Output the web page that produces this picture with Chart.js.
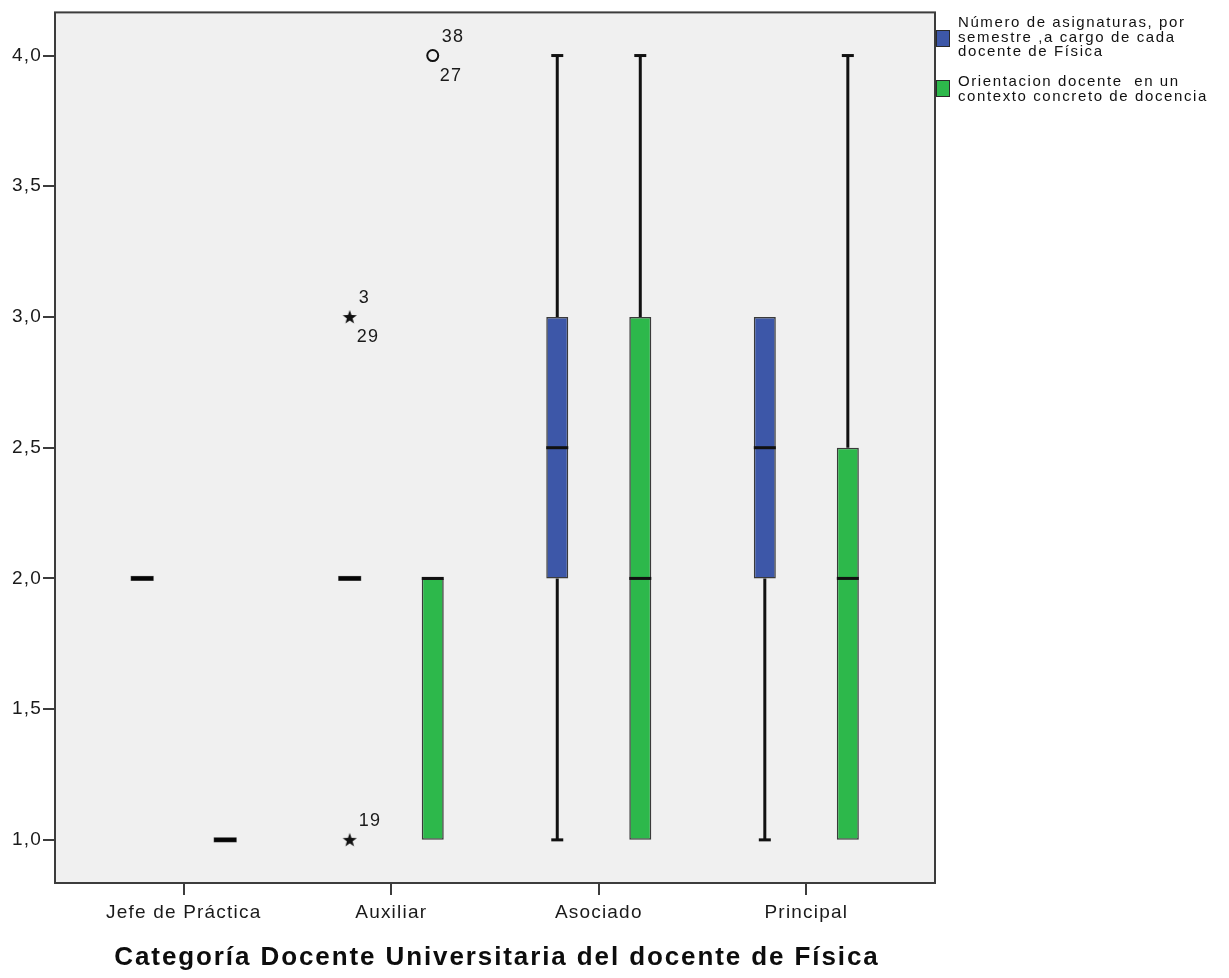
<!DOCTYPE html>
<html>
<head>
<meta charset="utf-8">
<script src="https://cdn.jsdelivr.net/npm/chart.js@4/dist/chart.umd.min.js"></script>
<style>
  html, body { margin: 0; padding: 0; background: #ffffff; }
  #wrap { position: relative; width: 1229px; height: 978px; }
  #chart { position: absolute; left: 0; top: 0; }
  .legend-sw { position: absolute; width: 14px; height: 17px; box-sizing: border-box; border: 1px solid #2a2a2a; }
  .legend-tx { position: absolute; left: 958px; font-family: "Liberation Sans", Arial, sans-serif; font-size: 15px; line-height: 14.5px; letter-spacing: 1.6px; color: #111; white-space: nowrap; }
</style>
</head>
<body>
<div id="wrap">
  <canvas id="chart" width="1229" height="978"></canvas>
  <div class="legend-sw" id="sw0" style="left:936px; top:30px;"></div>
  <div class="legend-tx" id="tx0" style="top:15px;"></div>
  <div class="legend-sw" id="sw1" style="left:936px; top:80px;"></div>
  <div class="legend-tx" id="tx1" style="top:74px;"></div>
</div>
<script>
// Categories on the horizontal axis
const categories = ['Jefe de Práctica', 'Auxiliar', 'Asociado', 'Principal'];

// Series names (legend lines)
const seriesLines0 = ['Número de asignaturas, por', 'semestre ,a cargo de cada', 'docente de Física'];
const seriesLines1 = ['Orientacion docente  en un', 'contexto concreto de docencia'];

// Axis title
const xTitle = 'Categoría Docente Universitaria del docente de Física';

// Five-number summaries: Número de asignaturas
const asigMin = [2, 2, 1, 1];
const asigQ1  = [2, 2, 2, 2];
const asigMed = [2, 2, 2.5, 2.5];
const asigQ3  = [2, 2, 3, 3];
const asigMax = [2, 2, 4, 3];

// Five-number summaries: Orientación docente
const orientMin = [1, 1, 1, 1];
const orientQ1  = [1, 1, 1, 1];
const orientMed = [1, 2, 2, 2];
const orientQ3  = [1, 2, 3, 2.5];
const orientMax = [1, 2, 4, 4];

// Outlying cases: category index, value, case numbers, extreme flag
const asigOutCat     = [1, 1];
const asigOutVal     = [3, 1];
const asigOutCases   = [['3', '29'], ['19']];
const asigOutExtreme = [true, true];

const orientOutCat     = [1];
const orientOutVal     = [4];
const orientOutCases   = [['38', '27']];
const orientOutExtreme = [false];

// Value-axis tick labels
const yTicks = [1.0, 1.5, 2.0, 2.5, 3.0, 3.5, 4.0];

const colors = ['#3D57A8', '#2DB84B'];
const offsets = [-0.2, 0.2];
const BOX_W = 22;
const FONT = '"Liberation Sans", Arial, sans-serif';

// Legend text
document.getElementById('sw0').style.background = colors[0];
document.getElementById('sw1').style.background = colors[1];
document.getElementById('tx0').innerHTML = seriesLines0.join('<br>');
document.getElementById('tx1').innerHTML = seriesLines1.join('<br>').replace(/  /g, ' &nbsp;');

const series = [
  { min: asigMin, q1: asigQ1, med: asigMed, q3: asigQ3, max: asigMax,
    outCat: asigOutCat, outVal: asigOutVal, outCases: asigOutCases, outExtreme: asigOutExtreme },
  { min: orientMin, q1: orientQ1, med: orientMed, q3: orientQ3, max: orientMax,
    outCat: orientOutCat, outVal: orientOutVal, outCases: orientOutCases, outExtreme: orientOutExtreme }
];

// Boxes (interquartile range) as floating bars
function boxData(s, k) {
  const out = [];
  categories.forEach((c, i) => {
    if (s.q3[i] > s.q1[i]) out.push({ x: i + 1 + offsets[k], y: [s.q1[i], s.q3[i]] });
  });
  return out;
}

function outlierData(s, k, extreme) {
  const out = [];
  s.outCat.forEach((c, j) => {
    if (s.outExtreme[j] === extreme) out.push({ x: c + 1 + offsets[k], y: s.outVal[j] });
  });
  return out;
}

// Filled star marker for extreme cases
function makeStar() {
  const c = document.createElement('canvas');
  c.width = 16; c.height = 16;
  const g = c.getContext('2d');
  g.translate(8, 8.5);
  g.beginPath();
  for (let p = 0; p < 10; p++) {
    const r = p % 2 === 0 ? 7.4 : 3.0;
    const a = -Math.PI / 2 + p * Math.PI / 5;
    const px = r * Math.cos(a), py = r * Math.sin(a);
    if (p === 0) g.moveTo(px, py); else g.lineTo(px, py);
  }
  g.closePath();
  g.fillStyle = '#111';
  g.fill();
  return c;
}
const starImg = makeStar();

const datasets = [];
series.forEach((s, k) => {
  datasets.push({
    type: 'bar',
    data: boxData(s, k),
    backgroundColor: colors[k],
    borderColor: '#3a3a3a',
    borderWidth: 1.5,
    borderSkipped: false,
    grouped: false,
    maxBarThickness: BOX_W,
    order: 2
  });
});
series.forEach((s, k) => {
  const ext = outlierData(s, k, true);
  if (ext.length) datasets.push({
    type: 'scatter', data: ext, pointStyle: starImg, pointRadius: 8, order: 1
  });
  const mild = outlierData(s, k, false);
  if (mild.length) datasets.push({
    type: 'scatter', data: mild, pointStyle: 'circle', pointRadius: 5.5,
    borderColor: '#111', borderWidth: 2, backgroundColor: 'rgba(0,0,0,0)', order: 1
  });
});

const boxParts = {
  id: 'boxParts',
  beforeDraw(chart) {
    const { ctx, chartArea: a } = chart;
    ctx.fillStyle = '#F0F0F0';
    ctx.fillRect(a.left, a.top, a.width, a.height);
    ctx.letterSpacing = '1.2px';
  },
  beforeDatasetsDraw(chart) {
    const { ctx } = chart;
    const xs = chart.scales.x, ys = chart.scales.y;
    ctx.save();
    ctx.strokeStyle = '#111';
    ctx.lineWidth = 3;
    series.forEach((s, k) => {
      categories.forEach((c, i) => {
        const x = xs.getPixelForValue(i + 1 + offsets[k]);
        const segs = [];
        if (s.max[i] > s.q3[i]) segs.push([s.q3[i], s.max[i]]);
        if (s.min[i] < s.q1[i]) segs.push([s.q1[i], s.min[i]]);
        segs.forEach(([from, to]) => {
          const y0 = ys.getPixelForValue(from), y1 = ys.getPixelForValue(to);
          ctx.beginPath();
          ctx.moveTo(x, y0); ctx.lineTo(x, y1);
          ctx.stroke();
          ctx.beginPath();
          ctx.moveTo(x - 6, y1); ctx.lineTo(x + 6, y1);
          ctx.stroke();
        });
      });
    });
    ctx.restore();
  },
  afterDatasetsDraw(chart) {
    const { ctx } = chart;
    const xs = chart.scales.x, ys = chart.scales.y;
    ctx.save();
    series.forEach((s, k) => {
      categories.forEach((c, i) => {
        const x = xs.getPixelForValue(i + 1 + offsets[k]);
        const y = ys.getPixelForValue(s.med[i]);
        if (s.q3[i] > s.q1[i]) {
          ctx.fillStyle = '#111';
          ctx.fillRect(x - BOX_W / 2, y - 1.5, BOX_W, 3);
        } else {
          ctx.fillStyle = '#555';
          ctx.fillRect(x - BOX_W / 2 - 0.5, y - 2.5, BOX_W + 1, 5);
          ctx.fillStyle = '#050505';
          ctx.fillRect(x - BOX_W / 2, y - 2, BOX_W, 4);
        }
      });
      // case numbers beside outlying points
      ctx.fillStyle = '#1a1a1a';
      ctx.font = '18px ' + FONT;
      ctx.letterSpacing = '1.3px';
      ctx.textAlign = 'left';
      ctx.textBaseline = 'middle';
      s.outCat.forEach((c, j) => {
        const x = xs.getPixelForValue(c + 1 + offsets[k]);
        const y = ys.getPixelForValue(s.outVal[j]);
        const cases = s.outCases[j];
        ctx.fillText(cases[0], x + 9, y - 19);
        if (cases[1]) ctx.fillText(cases[1], x + 7, y + 20);
      });
    });
    ctx.restore();
  },
  afterDraw(chart) {
    const { ctx, chartArea: a } = chart;
    ctx.save();
    ctx.strokeStyle = '#3c3c3c';
    ctx.lineWidth = 2;
    ctx.strokeRect(a.left, a.top, a.width, a.height);
    // horizontal axis title
    ctx.fillStyle = '#0d0d0d';
    ctx.font = 'bold 26px ' + FONT;
    ctx.letterSpacing = '1.9px';
    ctx.textAlign = 'center';
    ctx.textBaseline = 'middle';
    ctx.fillText(xTitle, (a.left + a.right) / 2 + 2, 958);
    ctx.restore();
  }
};

const labelFont = { family: FONT, size: 19 };

new Chart(document.getElementById('chart'), {
  data: { datasets },
  options: {
    responsive: false,
    animation: false,
    events: [],
    layout: { padding: { top: 10, right: 294, left: 0, bottom: 0 } },
    plugins: { legend: { display: false }, tooltip: { enabled: false } },
    scales: {
      x: {
        type: 'linear',
        offset: false,
        min: 0.38, max: 4.62,
        afterFit(s) { s.height = 95; },
        afterBuildTicks(s) { s.ticks = categories.map((c, i) => ({ value: i + 1 })); },
        grid: { display: true, offset: false, drawOnChartArea: false, drawTicks: true, tickLength: 12, color: '#3c3c3c', lineWidth: 2 },
        border: { display: false },
        ticks: {
          autoSkip: false, maxRotation: 0, padding: 6, color: '#1a1a1a', font: labelFont,
          callback: (v) => categories[Math.round(v) - 1]
        }
      },
      y: {
        type: 'linear',
        min: 0.835, max: 4.165,
        afterFit(s) { s.width = 55; },
        afterBuildTicks(s) { s.ticks = yTicks.map(v => ({ value: v })); },
        grid: { display: true, drawOnChartArea: false, drawTicks: true, tickLength: 12, color: '#3c3c3c', lineWidth: 2 },
        border: { display: false },
        ticks: {
          padding: 1, color: '#1a1a1a', font: labelFont,
          callback: (v) => Number(v).toFixed(1).replace('.', ',')
        }
      }
    }
  },
  plugins: [boxParts]
});
</script>
</body>
</html>
